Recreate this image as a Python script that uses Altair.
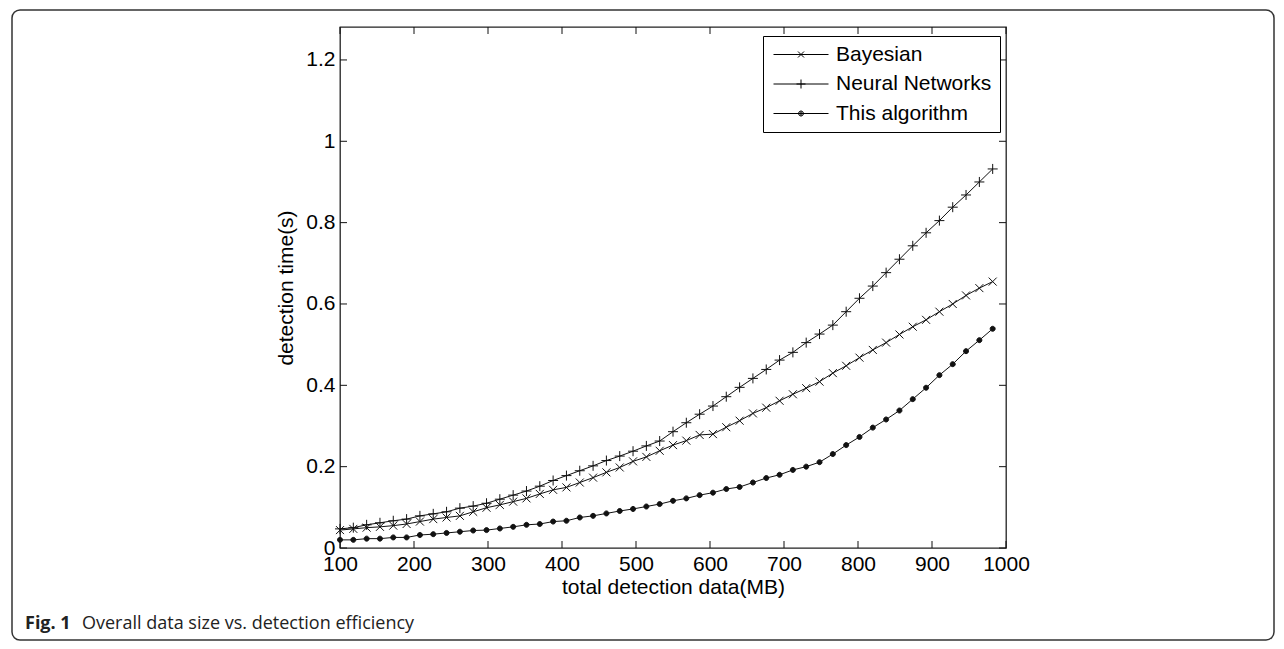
import altair as alt
import pandas as pd

# ---------------- data ----------------
sizes = [100, 118, 136, 154, 172, 190, 208, 226, 244, 262,
         280, 298, 316, 334, 352, 370, 388, 406, 424, 442,
         460, 478, 496, 514, 532, 550, 568, 586, 604, 622,
         640, 658, 676, 694, 712, 730, 748, 766, 784, 802,
         820, 838, 856, 874, 892, 910, 928, 946, 964, 982]

bayesian = [0.044, 0.047, 0.050, 0.052, 0.055, 0.059, 0.065, 0.071, 0.075, 0.079,
            0.089, 0.099, 0.106, 0.114, 0.122, 0.133, 0.143, 0.149, 0.161, 0.173,
            0.186, 0.198, 0.213, 0.224, 0.239, 0.253, 0.264, 0.278, 0.280, 0.297,
            0.313, 0.331, 0.345, 0.362, 0.378, 0.393, 0.409, 0.430, 0.448, 0.468,
            0.487, 0.505, 0.525, 0.544, 0.561, 0.581, 0.600, 0.621, 0.639, 0.655]

neural = [0.047, 0.050, 0.057, 0.062, 0.067, 0.071, 0.079, 0.084, 0.089, 0.098,
          0.103, 0.110, 0.120, 0.130, 0.140, 0.152, 0.166, 0.178, 0.190, 0.202,
          0.215, 0.226, 0.238, 0.251, 0.263, 0.286, 0.308, 0.329, 0.349, 0.372,
          0.395, 0.417, 0.439, 0.462, 0.481, 0.505, 0.526, 0.548, 0.581, 0.614,
          0.644, 0.677, 0.710, 0.743, 0.775, 0.805, 0.838, 0.868, 0.900, 0.932]

this_alg = [0.020, 0.020, 0.023, 0.023, 0.026, 0.026, 0.032, 0.034, 0.037, 0.040,
            0.043, 0.044, 0.048, 0.052, 0.057, 0.059, 0.065, 0.067, 0.075, 0.079,
            0.085, 0.091, 0.096, 0.102, 0.108, 0.116, 0.122, 0.130, 0.136, 0.145,
            0.150, 0.161, 0.172, 0.180, 0.192, 0.200, 0.211, 0.231, 0.253, 0.273,
            0.296, 0.316, 0.338, 0.366, 0.394, 0.425, 0.452, 0.484, 0.511, 0.539]

series_names = ["Bayesian", "Neural Networks", "This algorithm"]
x_ticks = [100, 200, 300, 400, 500, 600, 700, 800, 900, 1000]
y_ticks = [0, 0.2, 0.4, 0.6, 0.8, 1.0, 1.2]

x_title = "total detection data(MB)"
y_title = "detection time(s)"
caption_bold = "Fig. 1"
caption_text = "Overall data size vs. detection efficiency"

# ---------------- tables ----------------
rows = []
for name, vals in zip(series_names, [bayesian, neural, this_alg]):
    for s, v in zip(sizes, vals):
        rows.append({"size": s, "time": v, "series": name})
df = pd.DataFrame(rows)
xt_df = pd.DataFrame({"size": x_ticks})
yt_df = pd.DataFrame({"time": y_ticks})
one = pd.DataFrame({"k": [0]})

W, H = 666, 521
FONT = "Liberation Sans"
INK = "#111111"

x_scale = alt.Scale(domain=[100, 1000], nice=False, zero=False)
y_scale = alt.Scale(domain=[0, 1.281], nice=False, zero=False)

x_axis = alt.Axis(values=x_ticks, title=x_title, ticks=False, domain=False,
                  grid=False, labelPadding=5, titlePadding=2, format="d",
                  labelFlush=False, labelOverlap=False)
y_axis = alt.Axis(values=y_ticks, title=y_title, ticks=False, domain=False,
                  grid=False, labelPadding=5, titlePadding=9, format="~g",
                  labelFlush=False, labelOverlap=False)

X = alt.X("size:Q", scale=x_scale, axis=x_axis)
Y = alt.Y("time:Q", scale=y_scale, axis=y_axis)

# marker shapes (custom SVG paths)
marker_paths = [
    "M-0.8,-0.8L0.8,0.8M-0.8,0.8L0.8,-0.8",
    "M-1,0L1,0M0,-1L0,1",
    "M0.5,0A0.5,0.5,0,1,1,-0.5,0A0.5,0.5,0,1,1,0.5,0Z",
]
dot = ("M2.2,0A0.25,0.25,0,1,1,1.7,0A0.25,0.25,0,1,1,2.2,0Z"
       "M2.1,0A0.15,0.15,0,1,1,1.8,0A0.15,0.15,0,1,1,2.1,0Z"
       "M2.0,0A0.05,0.05,0,1,1,1.9,0A0.05,0.05,0,1,1,2.0,0Z")
legend_paths = [
    "M-0.8,0L4.7,0M1.65,-0.3L2.25,0.3M1.65,0.3L2.25,-0.3",
    "M-0.8,0L4.7,0M1.5,0L2.4,0M1.95,-0.45L1.95,0.45",
    "M-0.8,0L4.7,0" + dot,
]

# ---------------- layers ----------------
frame = alt.Chart(one).mark_rect(
    filled=False, stroke="#333333", strokeWidth=1.5, cornerRadius=8
).encode(x=alt.value(-328), x2=alt.value(934), y=alt.value(-17), y2=alt.value(613))

cap1 = alt.Chart(one).mark_text(
    align="left", baseline="alphabetic", font="Open Sans", fontSize=18,
    fontWeight="bold", color="#222222"
).encode(x=alt.value(-315), y=alt.value(602), text=alt.value(caption_bold))

cap2 = alt.Chart(one).mark_text(
    align="left", baseline="alphabetic", font="Open Sans", fontSize=18,
    color="#222222"
).encode(x=alt.value(-258), y=alt.value(602), text=alt.value(caption_text))

lines = alt.Chart(df).mark_line(color=INK, strokeWidth=1).encode(
    x=X, y=Y, detail="series:N",
)

points = alt.Chart(df).mark_point(
    filled=True, fill=INK, stroke=INK, strokeWidth=1, size=100, opacity=1
).encode(
    x=X, y=Y,
    shape=alt.Shape("series:N", scale=alt.Scale(domain=series_names, range=marker_paths),
                    legend=None),
)

legend_layer = alt.Chart(df).mark_point(
    filled=False, stroke="black", strokeWidth=1, size=400, opacity=0
).encode(
    x=X, y=Y,
    shape=alt.Shape("series:N", scale=alt.Scale(domain=series_names, range=legend_paths),
                    legend=alt.Legend(title=None, orient="none", legendX=423, legendY=9,
                                      padding=8, strokeColor="black", fillColor="white",
                                      labelFont=FONT, labelFontSize=21, labelColor="black",
                                      symbolSize=400, symbolStrokeWidth=1,
                                      symbolStrokeColor="black",
                                      symbolOpacity=1, labelOffset=44, rowPadding=7.5,
                                      cornerRadius=0)),
)

tick_len = 7
xt_bottom = alt.Chart(xt_df).mark_rule(color=INK, strokeWidth=1).encode(
    x=X, y=alt.value(H - tick_len), y2=alt.value(H))
xt_top = alt.Chart(xt_df).mark_rule(color=INK, strokeWidth=1).encode(
    x=X, y=alt.value(0), y2=alt.value(tick_len))
yt_left = alt.Chart(yt_df).mark_rule(color=INK, strokeWidth=1).encode(
    y=Y, x=alt.value(0), x2=alt.value(tick_len))
yt_right = alt.Chart(yt_df).mark_rule(color=INK, strokeWidth=1).encode(
    y=Y, x=alt.value(W - tick_len), x2=alt.value(W))

chart = alt.layer(
    lines, frame, cap1, cap2, xt_bottom, xt_top, yt_left, yt_right, points, legend_layer
).resolve_scale(shape="independent").properties(
    width=W, height=H,
    autosize=alt.AutoSizeParams(type="none"),
    padding={"left": 332, "top": 19, "right": 270, "bottom": 93},
    background="white",
).configure_view(
    stroke="#222222", strokeWidth=1.3
).configure_axis(
    labelFont=FONT, labelFontSize=21, labelColor="black",
    titleFont=FONT, titleFontSize=21, titleColor="black", titleFontWeight="normal",
    grid=False,
)

chart.save("out.html", embed_options={"renderer": "svg", "actions": False})
